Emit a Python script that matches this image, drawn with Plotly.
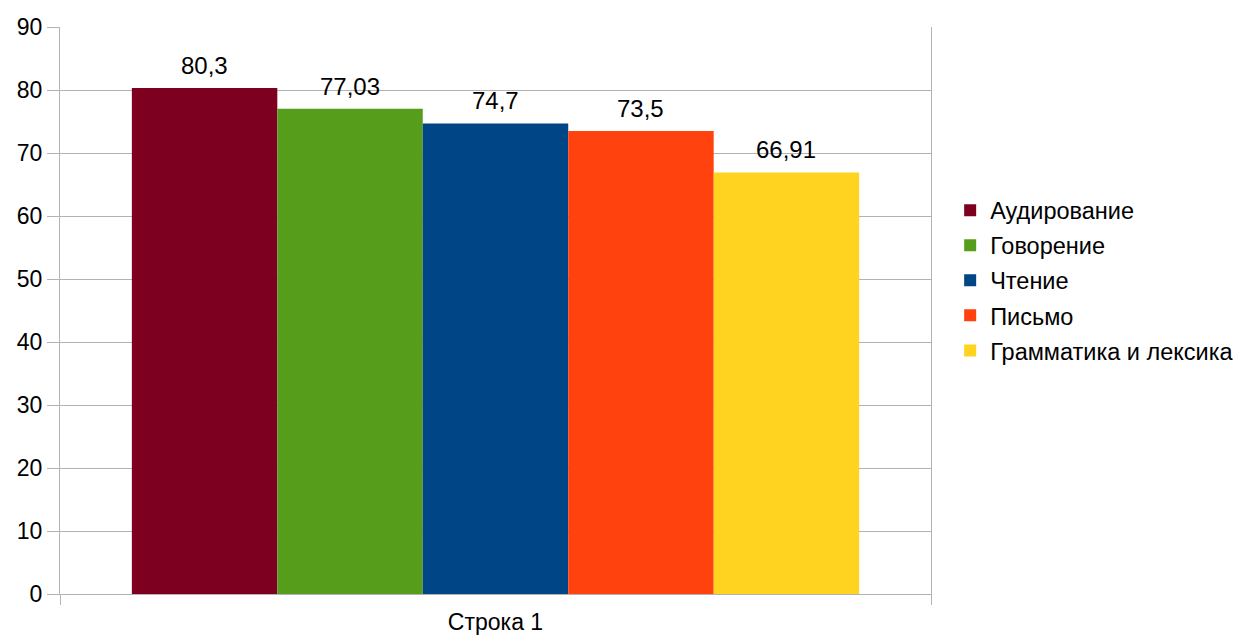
import plotly.graph_objects as go

categories = ["Строка 1"]
series_names = ["Аудирование", "Говорение", "Чтение", "Письмо", "Грамматика и лексика"]
series_values = [80.3, 77.03, 74.7, 73.5, 66.91]
colors = ["#7E0021", "#579D1C", "#004586", "#FF420E", "#FFD320"]
y_ticks = [0, 10, 20, 30, 40, 50, 60, 70, 80, 90]

font_family = "Liberation Sans, Arial, sans-serif"
bargap = 0.165
n = len(series_names)
bar_w = (1 - bargap) / n

fig = go.Figure()
for name, val, col in zip(series_names, series_values, colors):
    fig.add_trace(go.Bar(
        x=categories, y=[val], name=name, marker=dict(color=col, line=dict(width=0)),
        legendgroup=name,
    ))

# value labels above each bar (positioned from the grouped-bar geometry)
for i, val in enumerate(series_values):
    fig.add_annotation(
        x=-(1 - bargap) / 2 + bar_w * (i + 0.5), y=val, xref="x", yref="y",
        text=f"{val:g}".replace(".", ","), showarrow=False,
        yanchor="bottom", yshift=7,
        font=dict(size=24, color="#000000", family=font_family),
    )

fig.update_layout(
    width=1247, height=636,
    margin=dict(l=52, r=324, t=19, b=50, autoexpand=False),
    paper_bgcolor="white", plot_bgcolor="white",
    barmode="group", bargap=bargap, bargroupgap=0,
    font=dict(family=font_family, size=23, color="#000000"),
    legend=dict(x=1.022, xanchor="left", y=0.553, yanchor="middle",
                traceorder="grouped", tracegroupgap=1.5,
                font=dict(size=23.5, family=font_family)),
    showlegend=True,
)
fig.update_yaxes(range=[0, 90], tickvals=y_ticks, showgrid=True, gridcolor="#b3b3b3", gridwidth=1,
                 showline=True, linecolor="#b3b3b3", linewidth=1, mirror=True,
                 ticks="outside", ticklen=12, tickcolor="#b3b3b3",
                 zeroline=False, tickfont=dict(size=23))
fig.update_xaxes(showline=True, linecolor="#b3b3b3", linewidth=1, mirror=False,
                 ticks="outside", ticklen=10, tickcolor="#b3b3b3", tickson="boundaries",
                 tickfont=dict(size=23), ticklabelstandoff=7)

fig.write_html("out.html")
